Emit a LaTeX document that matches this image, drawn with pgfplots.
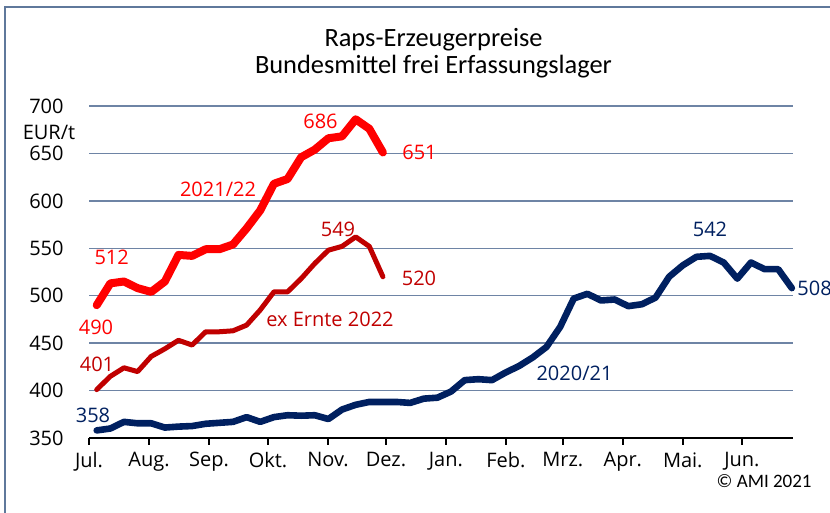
\documentclass[border=0pt]{standalone}
\usepackage{fontspec}
\setmainfont{Open Sans}
\newfontfamily\titlefont{Carlito}
\usepackage{pgfplots}
\usepackage{pgfplotstable}
\pgfplotsset{compat=1.18}
\definecolor{gridc}{RGB}{110,132,165}
\definecolor{framec}{RGB}{95,120,155}
\definecolor{cred}{RGB}{255,0,0}
\definecolor{cdred}{RGB}{192,0,0}
\definecolor{cnavy}{RGB}{0,32,96}
\newcommand{\lab}[5][center]{\node[text=#2,anchor=#1,inner sep=0pt,font=\fontsize{10}{12}\selectfont] at ({(#3-89)*0.5pt},{(438-#4)*0.5pt}) {#5};}

\pgfplotstableread{
y
358
360
367
365.5
365.5
361
362
362.6
365
366
367
372
367
372
374
373.5
374
370
380
385
388
388
388
387
391.5
392.5
399
411
412
411
419
426
435
446
467
497
502
495
496
489
491
498
520
532
541
542
535
518
535
528
528
508
}\tblue

\pgfplotstableread{
y
490
513
515
508
504
515
543
542
549
549
554
571
590
618
623
646
654
666
668
686
676
651
}\tred

\pgfplotstableread{
y
401
415
424
420
436
444
453
448
462
462
463
469
485
504
504
518
534
548
552
562
552
520
}\tdred

\begin{document}
\begin{tikzpicture}
\path[use as bounding box] (-44.5pt,-37.5pt) rectangle (370.5pt,219pt);
\draw[framec, line width=1pt] (-42pt,-45pt) -- (-42pt,215.5pt) -- (380pt,215.5pt);
\begin{axis}[
  at={(0,0)}, anchor=south west,
  scale only axis, width=351.75pt, height=166pt,
  xmin=-0.565, xmax=51.05, ymin=350, ymax=700,
  ytick={350,400,...,700},
  xtick={-0.565,3.837,8.24,12.57,16.97,21.22,25.62,30.02,34.2,38.6,43.0,47.34},
  xticklabels={Jul.,Aug.,Sep.,Okt.,Nov.,Dez.,Jan.,Feb.,Mrz.,Apr.,Mai.,Jun.},
  axis lines=left, axis line style={-},
  y axis line style={draw=none},
  x axis line style={black, line width=0.75pt},
  xtick style={black, line width=0.75pt},
  ytick style={draw=none},
  tick align=outside, major tick length=3.5pt,
  ymajorgrids, grid style={gridc, line width=0.75pt},
  tick label style={font=\fontsize{10}{12}\selectfont},
  /pgf/number format/assume math mode=true,
  yticklabel style={inner sep=0pt, xshift=-9pt},
  xticklabel style={inner sep=0pt, yshift=-3.5pt},
  clip=false,
]
\addplot[cnavy, line width=3.3pt, line join=round, line cap=round] table[x expr=\coordindex, y=y] {\tblue};
\addplot[cdred, line width=2.5pt, line join=round, line cap=round] table[x expr=\coordindex, y=y] {\tdred};
\addplot[cred, line width=4pt, line join=round, line cap=round] table[x expr=\coordindex, y=y] {\tred};
\end{axis}
\lab{cred}{218}{189.5}{2021/22}
\lab{cred}{111.7}{257.8}{512}
\lab{cred}{96}{327}{490}
\lab{cred}{320.5}{121}{686}
\lab{cred}{419.5}{152}{651}
\lab{cdred}{338}{229.5}{549}
\lab{cdred}{419}{278.5}{520}
\lab{cdred}{330}{319.5}{ex Ernte 2022}
\lab{cdred}{97}{364}{401}
\lab{cnavy}{93}{415}{358}
\lab{cnavy}{574.5}{373}{2020/21}
\lab{cnavy}{710}{229.5}{542}
\lab[west]{cnavy}{797}{288.5}{508}
\node[anchor=center,inner sep=0pt,font=\fontsize{10}{12}\selectfont] at ({(49-89)*0.5pt},{(438-132)*0.5pt}) {EUR/t};
\node[anchor=base,inner sep=0pt,font=\titlefont\fontsize{13.2}{15}\selectfont] at ({(433.5-89)*0.5pt},{(438-46.7)*0.5pt}) {Raps-Erzeugerpreise};
\node[anchor=base,inner sep=0pt,font=\titlefont\fontsize{13.2}{15}\selectfont] at ({(433.5-89)*0.5pt},{(438-74)*0.5pt}) {Bundesmittel frei Erfassungslager};
\node[anchor=base east,inner sep=0pt,font=\titlefont\fontsize{9.5}{11}\selectfont] at ({(812-89)*0.5pt},{(438-488)*0.5pt}) {© AMI 2021};
\end{tikzpicture}
\end{document}
